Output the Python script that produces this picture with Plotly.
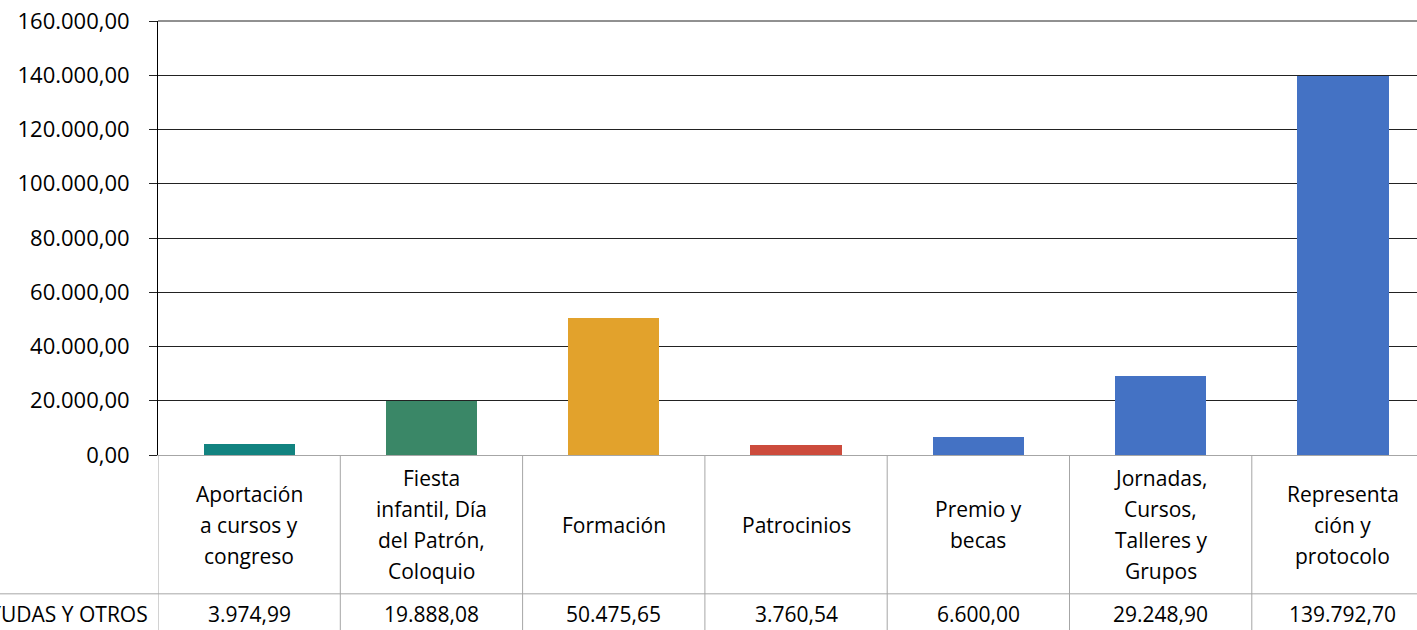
import plotly.graph_objects as go

# ---- data ----
categories = [
    "Aportación<br>a cursos y<br>congreso",
    "Fiesta<br>infantil, Día<br>del Patrón,<br>Coloquio",
    "Formación",
    "Patrocinios",
    "Premio y<br>becas",
    "Jornadas,<br>Cursos,<br>Talleres y<br>Grupos",
    "Representa<br>ción y<br>protocolo",
]
values = [3974.99, 19888.08, 50475.65, 3760.54, 6600.00, 29248.90, 139792.70]
value_labels = ["3.974,99", "19.888,08", "50.475,65", "3.760,54", "6.600,00", "29.248,90", "139.792,70"]
bar_colors = ["#128380", "#3a8767", "#e2a22c", "#cc4b3c", "#4472c4", "#4472c4", "#4472c4"]
series_name = "AYUDAS Y OTROS"
y_ticks = [0, 20000, 40000, 60000, 80000, 100000, 120000, 140000, 160000]
y_tick_text = ["0,00", "20.000,00", "40.000,00", "60.000,00", "80.000,00",
               "100.000,00", "120.000,00", "140.000,00", "160.000,00"]

# ---- layout constants (pixels) ----
W, H = 1417, 630
PLOT_L, PLOT_T, PLOT_B = 158, 20.5, 455
CAT_W = 182.3
plot_h = PLOT_B - PLOT_T
plot_w = W - PLOT_L
x_hi = -0.5 + plot_w / CAT_W

def py(p):  # pixel y -> paper y
    return (PLOT_B - p) / plot_h

def px(p):  # pixel x -> paper x
    return (p - PLOT_L) / plot_w

FONT = "Open Sans"
TXT = "#000000"
GRID = "#a6a6a6"
DARK = "#222222"

n = len(categories)
xs = list(range(n))

fig = go.Figure()
fig.add_trace(go.Bar(
    x=xs, y=values, width=0.5, marker=dict(color=bar_colors, line=dict(width=0)),
    hoverinfo="skip", showlegend=False,
))

shapes = []
annotations = []

# top gridline (at the range edge)
shapes.append(dict(type="line", xref="paper", yref="paper", x0=0, x1=1, y0=1, y1=1,
                   line=dict(color=DARK, width=1)))

# table: row separator (full width) and vertical cell borders
ROW_SEP = 594
shapes.append(dict(type="line", xref="paper", yref="paper", x0=px(0), x1=1,
                   y0=py(ROW_SEP), y1=py(ROW_SEP), line=dict(color=GRID, width=1)))
for k in range(n + 1):
    xb = k - 0.5
    if xb <= x_hi:
        shapes.append(dict(type="line", xref="x", yref="paper", x0=xb, x1=xb,
                           y0=py(PLOT_B), y1=py(H + 5), line=dict(color=GRID, width=1)))

# category labels (one annotation per line to mimic the line spacing)
LINE_H = 31
ROW_CENTER = 525
for i, lab in enumerate(categories):
    lines = lab.split("<br>")
    m = len(lines)
    for j, ln in enumerate(lines):
        yc = ROW_CENTER + (j - (m - 1) / 2) * LINE_H
        annotations.append(dict(x=i, xref="x", y=py(yc), yref="paper", text=ln,
                                showarrow=False, xanchor="center", yanchor="middle",
                                font=dict(family=FONT, size=21, color=TXT)))

# value row
VAL_Y = 614
for i, v in enumerate(value_labels):
    annotations.append(dict(x=i, xref="x", y=py(VAL_Y), yref="paper", text=v,
                            showarrow=False, xanchor="center", yanchor="middle",
                            font=dict(family=FONT, size=21, color=TXT)))
annotations.append(dict(x=px(150), xref="paper", y=py(VAL_Y), yref="paper", text=series_name,
                        showarrow=False, xanchor="right", yanchor="middle",
                        font=dict(family=FONT, size=21, color=TXT)))

fig.update_layout(
    width=W, height=H,
    margin=dict(l=PLOT_L, r=0, t=PLOT_T, b=H - PLOT_B, pad=0, autoexpand=False),
    paper_bgcolor="white", plot_bgcolor="white",
    shapes=shapes, annotations=annotations,
    xaxis=dict(range=[-0.5, x_hi], showticklabels=False, showgrid=False, zeroline=False,
               showline=True, linecolor=GRID, linewidth=1, ticks="", fixedrange=True),
    yaxis=dict(range=[0, 160000], tickvals=y_ticks, ticktext=y_tick_text,
               showgrid=True, gridcolor=DARK, gridwidth=1, zeroline=False,
               showline=True, linecolor="#000000", linewidth=1,
               ticks="outside", ticklen=8, tickcolor=DARK, tickwidth=1,
               ticklabelstandoff=15,
               tickfont=dict(family=FONT, size=22, color=TXT), fixedrange=True),
    bargap=0,
)

fig.write_html("out.html", config={"displayModeBar": False},
               post_script="document.body.style.margin='0';document.body.style.overflow='hidden';")
